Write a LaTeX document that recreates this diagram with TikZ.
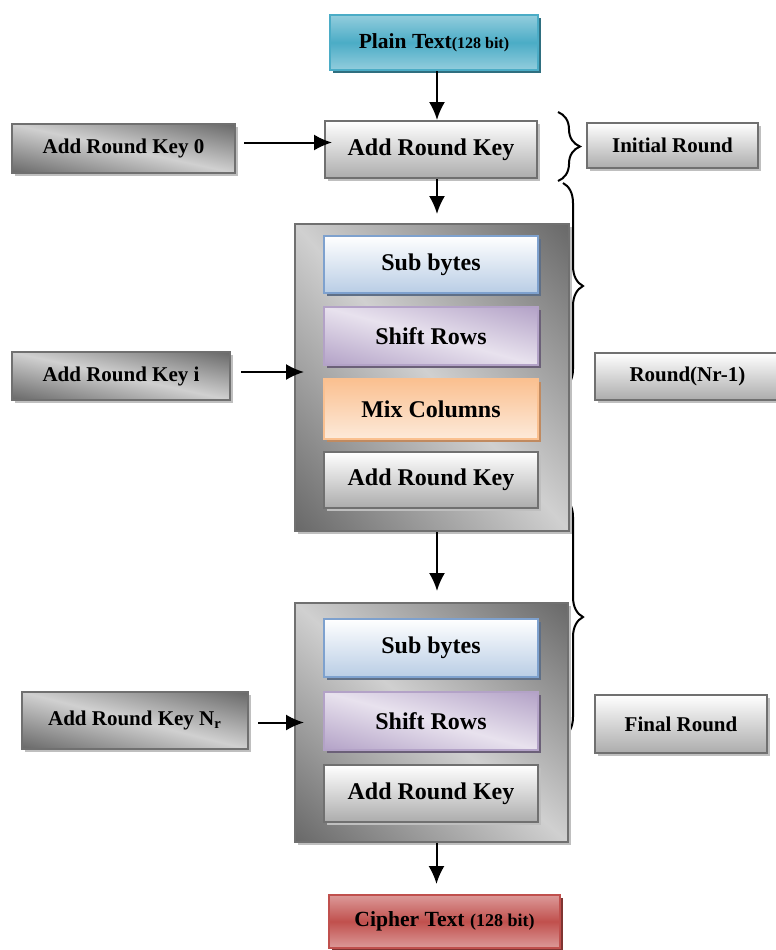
\documentclass[tikz,border=0pt]{standalone}
\usepackage{fontspec}
\setmainfont{Liberation Serif}
\usetikzlibrary{arrows.meta,shadows,decorations.pathreplacing}

\definecolor{tealmid}{HTML}{4BACC6}
\definecolor{teallight}{HTML}{93CDDD}
\definecolor{tealshadow}{HTML}{2F6F80}
\definecolor{redmid}{HTML}{C0504D}
\definecolor{redlight}{HTML}{DC9A99}
\definecolor{redshadow}{HTML}{7F3432}
\definecolor{bluelight}{HTML}{B9CDE5}
\definecolor{blueedge}{HTML}{7EA1CE}
\definecolor{blueshadow}{HTML}{5F6F86}
\definecolor{purpledark}{HTML}{B3A2C7}
\definecolor{purpleshadow}{HTML}{6B6078}
\definecolor{orangedark}{HTML}{FAC090}
\definecolor{orangelight}{HTML}{FDEADA}
\definecolor{orangeshadow}{HTML}{C08A60}
\definecolor{keyedge}{HTML}{707070}
\definecolor{keyshadow}{HTML}{BFBFBF}

% dark corners (top right, bottom left), light along the other diagonal
\pgfdeclarefunctionalshading{diaggray}{\pgfpointorigin}{\pgfpoint{100bp}{100bp}}{}{
  50 sub 25 div exch 50 sub 25 div add abs 2 div
  -0.408 mul 0.816 add dup dup
}
\pgfdeclarefunctionalshading{diagpurple}{\pgfpointorigin}{\pgfpoint{100bp}{100bp}}{}{
  50 sub 25 div exch 50 sub 25 div add abs 2 div
  dup -0.208 mul 0.910 add exch dup -0.251 mul 0.886 add exch -0.153 mul 0.933 add
}

\tikzset{
  base/.style={draw, line width=1pt, inner sep=0pt, align=center,
    font=\bfseries\fontsize{12}{14}\selectfont},
  shadowed/.style={drop shadow={shadow xshift=1.7pt, shadow yshift=-1.7pt,
    fill=#1, opacity=1}},
  labelbox/.style={base, draw=keyedge, top color=white, bottom color=gray!65,
    shadowed=keyshadow, font=\bfseries\fontsize{10.5}{12}\selectfont},
  keybox/.style={base, draw=keyedge, shade, shading=diaggray,
    shadowed=keyshadow, font=\bfseries\fontsize{10.5}{12}\selectfont},
  roundbox/.style={keybox},
  arkbox/.style={base, draw=keyedge, top color=white, bottom color=gray!65,
    shadowed=keyshadow},
  subbox/.style={base, draw=blueedge, top color=white, bottom color=bluelight,
    shadowed=blueshadow},
  shiftbox/.style={base, draw=purpledark, shade, shading=diagpurple,
    shadowed=purpleshadow},
  mixbox/.style={base, draw=orangedark, top color=orangedark,
    bottom color=orangelight, shadowed=orangeshadow},
  flow/.style={-{Latex[length=9pt,width=8pt]}, line width=1pt},
  bracket/.style={decorate, decoration={brace, amplitude=#1}, line width=1pt}
}

\begin{document}
\begin{tikzpicture}[x=0.5pt, y=-0.5pt]
  \useasboundingbox (0,0) rectangle (776,950);

  % braces behind the boxes
  \draw[bracket=11pt] (558,112) -- (558,181);
  \draw[bracket=10pt] (563,183) -- (563,389);
  \draw[bracket=10pt] (563,497) -- (563,737);

  % input and initial round
  \node[base, draw=tealmid, top color=teallight, bottom color=teallight,
    middle color=tealmid, shadowed=tealshadow, minimum width=104pt,
    minimum height=27.5pt] (plain) at (434,42.5)
    {\fontsize{10.75}{12}\selectfont Plain Text\fontsize{8}{9}\selectfont(128 bit)};
  \node[arkbox, minimum width=106pt, minimum height=28.5pt] (ark0) at (431,149.5) {Add Round Key};
  \node[keybox, minimum width=111.5pt, minimum height=24.5pt] (key0) at (123.5,148.5) {Add Round Key 0};
  \node[labelbox, minimum width=85.5pt, minimum height=22.5pt] (initial) at (672.5,145.5) {Initial Round};

  % main rounds
  \node[roundbox, minimum width=137pt, minimum height=153.5pt] (round) at (432,377.5) {};
  \node[subbox, minimum width=107pt, minimum height=28.5pt] (sb1) at (431,264.5) {Sub bytes};
  \node[shiftbox, minimum width=107pt, minimum height=29pt] (sr1) at (431,336) {Shift Rows};
  \node[mixbox, minimum width=107pt, minimum height=30pt] (mc1) at (431,409) {Mix Columns};
  \node[arkbox, minimum width=107pt, minimum height=28pt] (ark1) at (431,480) {Add Round Key};
  \node[keybox, minimum width=109pt, minimum height=24pt] (keyi) at (121,376) {Add Round Key i};
  \node[labelbox, minimum width=92.5pt, minimum height=23.5pt] (rounds) at (687.5,376.5) {Round(Nr-1)};

  % final round
  \node[roundbox, minimum width=136.5pt, minimum height=119.5pt] (final) at (431.5,722.5) {};
  \node[subbox, minimum width=107pt, minimum height=29pt] (sb2) at (431,648) {Sub bytes};
  \node[shiftbox, minimum width=107pt, minimum height=29pt] (sr2) at (431,721) {Shift Rows};
  \node[arkbox, minimum width=107pt, minimum height=28.5pt] (ark2) at (431,793.5) {Add Round Key};
  \node[keybox, minimum width=113pt, minimum height=28.5pt] (keynr) at (135,720.5) {Add Round Key N\textsubscript{r}};
  \node[labelbox, minimum width=86pt, minimum height=29pt] (finallabel) at (681,724) {Final Round};

  \node[base, draw=redmid, top color=redlight, bottom color=redlight,
    middle color=redmid, shadowed=redshadow, minimum width=115.5pt,
    minimum height=26.5pt] (cipher) at (444.5,921.5)
    {\fontsize{10.8}{12}\selectfont Cipher Text \fontsize{9}{10}\selectfont(128 bit)};

  \draw[flow] ([xshift=1.5pt]plain.south) -- ([xshift=1.5pt]plain.south |- ark0.north);
  \draw[flow, shorten >=4.5pt] ([xshift=3pt]ark0.south) -- ([xshift=3pt]ark0.south |- round.north);
  \draw[flow, shorten >=5.5pt] ([xshift=2.5pt]round.south) -- ([xshift=2.5pt]round.south |- final.north);
  \draw[flow, shorten >=5pt] ([xshift=2.5pt]final.south) -- ([xshift=2.5pt]final.south |- cipher.north);
  \draw[flow, shorten <=4pt, shorten >=-4pt] ([yshift=3pt]key0.east) -- ([yshift=3pt]key0.east -| ark0.west);
  \draw[flow, shorten <=5pt, shorten >=-5pt] ([yshift=2pt]keyi.east) -- ([yshift=2pt]keyi.east -| round.west);
  \draw[flow, shorten <=4.5pt, shorten >=-5pt] ([yshift=-1pt]keynr.east) -- ([yshift=-1pt]keynr.east -| final.west);
\end{tikzpicture}
\end{document}
